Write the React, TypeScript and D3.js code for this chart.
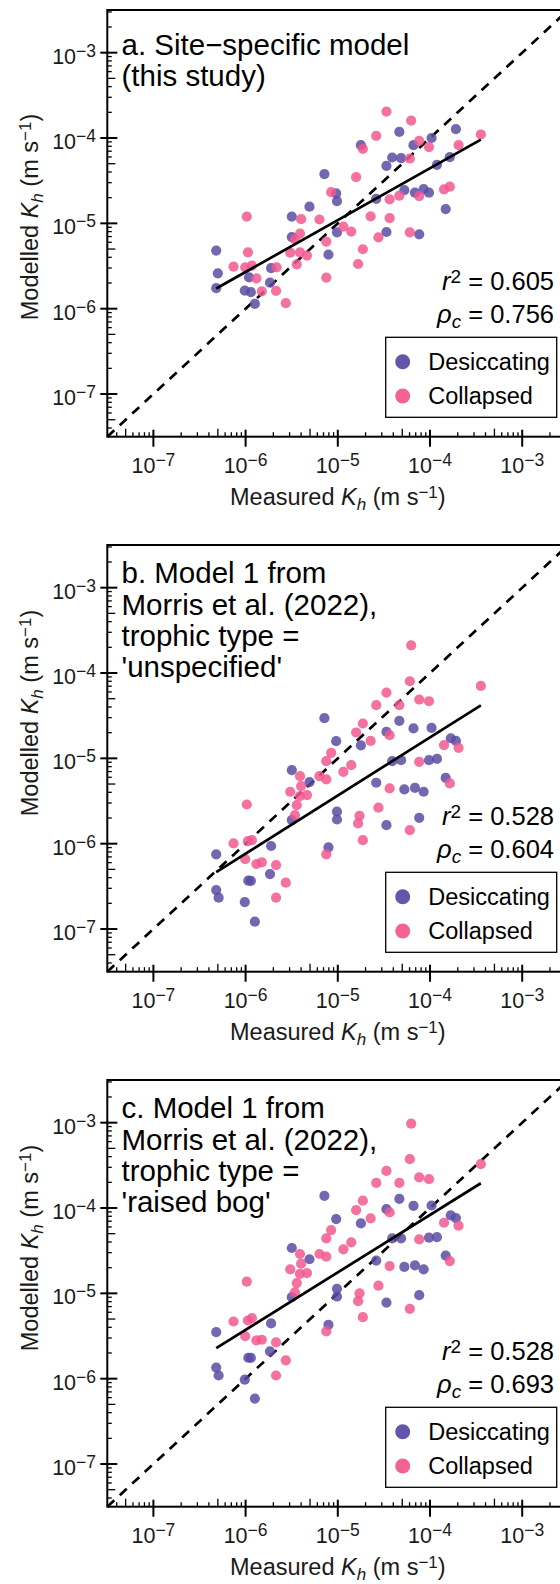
import React, { useEffect, useRef } from "react";
import * as d3 from "d3";

// panel texts
const panelTitles = [
  ["a. Site−specific model", "(this study)"],
  ["b. Model 1 from", "Morris et al. (2022),", "trophic type =", "'unspecified'"],
  ["c. Model 1 from", "Morris et al. (2022),", "trophic type =", "'raised bog'"],
];
const r2Labels = ["0.605", "0.528", "0.528"];
const rhoLabels = ["0.756", "0.604", "0.693"];
// log10(modelled) = intercept + slope * log10(measured)
const fitSlopes = [0.608, 0.681, 0.673];
const fitIntercepts = [-1.922, -2.03, -1.389];
const decades = [1e-7, 1e-6, 1e-5, 1e-4, 1e-3];
const decadeExponents = ["−7", "−6", "−5", "−4", "−3"];
const groupNames = ["Desiccating", "Collapsed"];

// [measured Kh, modelled Kh] (m/s)
const aDesiccating = [
  [4.8e-7, 4.8e-6], [5.0e-7, 2.6e-6], [4.8e-7, 1.74e-6], [9.8e-7, 1.63e-6],
  [1.09e-6, 2.33e-6], [1.14e-6, 1.56e-6], [1.26e-6, 1.14e-6], [1.89e-6, 2.98e-6],
  [1.84e-6, 2.02e-6], [3.17e-6, 1.2e-5], [3.17e-6, 6.9e-6], [4.93e-6, 1.57e-5],
  [7.16e-6, 3.78e-5], [9.6e-6, 2.24e-5], [9.8e-6, 1.82e-5], [9.8e-6, 7.85e-6],
  [7.92e-6, 4.31e-6], [1.78e-5, 8.24e-5], [2.61e-5, 1.94e-5], [3.37e-5, 4.72e-5],
  [3.89e-5, 5.91e-5], [4.65e-5, 1.18e-4], [4.86e-5, 5.81e-5], [5.27e-5, 2.45e-5],
  [6.62e-5, 8.24e-5], [6.87e-5, 2.29e-5], [8.53e-5, 2.52e-5], [9.75e-5, 2.29e-5],
  [1.04e-4, 1.0e-4], [1.19e-4, 4.85e-5], [1.64e-4, 5.97e-5], [1.91e-4, 1.27e-4],
  [1.48e-4, 1.47e-5], [3.37e-5, 7.92e-6], [7.64e-5, 7.43e-6],
];
const aCollapsed = [
  [1.03e-6, 1.2e-5], [7.4e-7, 3.11e-6], [1.06e-6, 4.58e-6], [9.9e-7, 3.05e-6],
  [1.17e-6, 3.2e-6], [1.31e-6, 2.26e-6], [1.5e-6, 1.6e-6], [2.14e-6, 1.62e-6],
  [2.17e-6, 3.05e-6], [2.73e-6, 1.16e-6], [3.05e-6, 4.54e-6], [3.59e-6, 3.31e-6],
  [3.89e-6, 4.58e-6], [4.63e-6, 4.19e-6], [3.89e-6, 7.57e-6], [3.43e-6, 6.5e-6],
  [4.0e-6, 1.12e-5], [6.32e-6, 1.11e-5], [8.47e-6, 2.32e-5], [7.5e-6, 6.11e-6],
  [7.5e-6, 2.31e-6], [1.15e-5, 9.14e-6], [1.4e-5, 8.0e-6], [1.87e-5, 4.97e-6],
  [1.66e-5, 3.34e-6], [2.27e-5, 1.21e-5], [2.76e-5, 6.86e-6], [3.65e-5, 1.15e-5],
  [3.65e-5, 1.91e-5], [1.58e-5, 3.48e-5], [1.87e-5, 7.46e-5], [2.61e-5, 1.06e-4],
  [3.37e-5, 2.04e-4], [6.25e-5, 1.6e-4], [6.04e-5, 5.75e-5], [7.64e-5, 9.27e-5],
  [9.75e-5, 7.82e-5], [4.65e-5, 2.11e-5], [6.04e-5, 7.85e-6], [7.64e-5, 2.09e-5],
  [1.42e-4, 2.5e-5], [1.64e-4, 2.69e-5], [2.04e-4, 8.24e-5], [3.56e-4, 1.1e-4],
];

const bDesiccating = [
  [4.8e-7, 7.5e-7], [4.8e-7, 2.86e-7], [5.1e-7, 2.33e-7], [9.8e-7, 2.07e-7],
  [1.07e-6, 3.69e-7], [1.14e-6, 3.66e-7], [1.26e-6, 1.22e-7], [1.89e-6, 9.4e-7],
  [1.84e-6, 4.41e-7], [3.17e-6, 7.28e-6], [3.17e-6, 1.89e-6], [4.93e-6, 5.26e-6],
  [7.16e-6, 2.96e-5], [9.6e-6, 1.59e-5], [9.8e-6, 2.37e-6], [9.8e-6, 1.92e-6],
  [7.92e-6, 9.05e-7], [1.78e-5, 1.42e-5], [2.61e-5, 5.18e-6], [3.37e-5, 2.05e-5],
  [3.89e-5, 9.27e-6], [4.65e-5, 2.75e-5], [4.86e-5, 9.53e-6], [5.27e-5, 4.32e-6],
  [6.62e-5, 2.24e-5], [6.87e-5, 4.52e-6], [8.53e-5, 4.06e-6], [9.75e-5, 9.53e-6],
  [1.04e-4, 2.28e-5], [1.19e-4, 9.88e-6], [1.68e-4, 1.72e-5], [1.91e-4, 1.6e-5],
  [1.48e-4, 5.92e-6], [3.37e-5, 1.65e-6], [7.64e-5, 2.01e-6],
];
const bCollapsed = [
  [1.03e-6, 2.88e-6], [7.4e-7, 1.01e-6], [1.06e-6, 1.07e-6], [9.9e-7, 6.61e-7],
  [1.17e-6, 1.1e-6], [1.31e-6, 5.78e-7], [1.5e-6, 6.04e-7], [2.14e-6, 5.62e-7],
  [2.14e-6, 2.33e-7], [2.73e-6, 3.49e-7], [3.05e-6, 4.06e-6], [3.59e-6, 2.83e-6],
  [3.89e-6, 3.61e-6], [4.63e-6, 3.71e-6], [3.89e-6, 6.19e-6], [3.43e-6, 2.16e-6],
  [4.0e-6, 4.73e-6], [6.32e-6, 6.19e-6], [8.47e-6, 1.16e-5], [7.5e-6, 5.66e-6],
  [7.5e-6, 7.5e-7], [1.15e-5, 6.96e-6], [1.4e-5, 8.32e-6], [1.87e-5, 1.1e-6],
  [1.66e-5, 1.73e-6], [1.72e-5, 2.12e-6], [2.27e-5, 1.6e-5], [2.76e-5, 2.64e-6],
  [3.65e-5, 4.44e-6], [3.65e-5, 1.87e-5], [1.58e-5, 2.01e-5], [1.87e-5, 2.56e-5],
  [2.61e-5, 4.2e-5], [3.37e-5, 5.9e-5], [6.25e-5, 2.11e-4], [6.04e-5, 8.01e-5],
  [7.64e-5, 4.89e-5], [9.75e-5, 4.67e-5], [4.65e-5, 4.2e-5], [6.04e-5, 1.44e-6],
  [7.64e-5, 9.1e-6], [1.42e-4, 1.43e-5], [1.64e-4, 5.08e-6], [2.04e-4, 1.33e-5],
  [3.56e-4, 7.06e-5], [7.5e-6, 9.27e-6],
];

const cDesiccating = [
  [4.8e-7, 3.52e-6], [4.8e-7, 1.35e-6], [5.1e-7, 1.09e-6], [9.8e-7, 9.75e-7],
  [1.07e-6, 1.76e-6], [1.14e-6, 1.75e-6], [1.26e-6, 5.85e-7], [1.89e-6, 4.44e-6],
  [1.84e-6, 2.09e-6], [3.17e-6, 3.4e-5], [3.17e-6, 9.02e-6], [4.93e-6, 2.51e-5],
  [7.16e-6, 1.39e-4], [9.6e-6, 7.41e-5], [9.8e-6, 1.13e-5], [9.8e-6, 9.18e-6],
  [7.92e-6, 4.28e-6], [1.78e-5, 6.6e-5], [2.61e-5, 2.42e-5], [3.37e-5, 9.7e-5],
  [3.89e-5, 4.41e-5], [4.65e-5, 1.28e-4], [4.86e-5, 4.41e-5], [5.27e-5, 2.04e-5],
  [6.62e-5, 1.06e-4], [6.87e-5, 2.13e-5], [8.53e-5, 1.91e-5], [9.75e-5, 4.49e-5],
  [1.04e-4, 1.07e-4], [1.19e-4, 4.57e-5], [1.68e-4, 8.19e-5], [1.91e-4, 7.62e-5],
  [1.48e-4, 2.77e-5], [3.37e-5, 7.8e-6], [7.64e-5, 9.51e-6],
];
const cCollapsed = [
  [1.03e-6, 1.37e-5], [7.4e-7, 4.68e-6], [1.06e-6, 4.81e-6], [9.9e-7, 3.16e-6],
  [1.17e-6, 5.12e-6], [1.31e-6, 2.81e-6], [1.5e-6, 2.86e-6], [2.14e-6, 2.66e-6],
  [2.14e-6, 1.09e-6], [2.73e-6, 1.64e-6], [3.05e-6, 1.91e-5], [3.59e-6, 1.32e-5],
  [3.89e-6, 1.69e-5], [4.63e-6, 1.73e-5], [3.89e-6, 2.89e-5], [3.43e-6, 1.03e-5],
  [4.0e-6, 2.23e-5], [6.32e-6, 2.89e-5], [8.47e-6, 5.52e-5], [7.5e-6, 2.69e-5],
  [7.5e-6, 3.58e-6], [1.15e-5, 3.28e-5], [1.4e-5, 3.96e-5], [1.87e-5, 5.26e-6],
  [1.66e-5, 8.09e-6], [1.72e-5, 1.0e-5], [2.27e-5, 7.55e-5], [2.76e-5, 1.23e-5],
  [3.65e-5, 2.09e-5], [3.65e-5, 8.87e-5], [1.58e-5, 9.45e-5], [1.87e-5, 1.22e-4],
  [2.61e-5, 1.97e-4], [3.37e-5, 2.72e-4], [6.25e-5, 9.73e-4], [6.04e-5, 3.73e-4],
  [7.64e-5, 2.28e-4], [9.75e-5, 2.18e-4], [4.65e-5, 1.97e-4], [6.04e-5, 6.58e-6],
  [7.64e-5, 4.29e-5], [1.42e-4, 6.72e-5], [1.64e-4, 2.39e-5], [2.04e-4, 6.2e-5],
  [3.56e-4, 3.26e-4], [7.5e-6, 4.41e-5],
];

const panelData = [
  [aDesiccating, aCollapsed],
  [bDesiccating, bCollapsed],
  [cDesiccating, cCollapsed],
];

const FONT = "'Liberation Sans', Arial, Helvetica, sans-serif";
const COLORS = ["#5a4ca5", "#f2588f"];

const App = () => {
  const chartRef = useRef<SVGSVGElement>(null);

  useEffect(() => {
    const svg = d3.select(chartRef.current);
    svg.selectAll("*").remove();

    const left = 107.3;
    const width = 461;
    const height = 426.7;
    const tops = [10, 545, 1080];
    const titleBase = [44.5, 38.3, 38.3];
    const yLabelMid = [207, 168, 168];

    const lo = Math.pow(10, -7.5);
    const hi = Math.pow(10, -2.5);
    const x = d3.scaleLog().domain([lo, hi]).range([left, left + width]);

    const minors: number[] = [];
    for (let e = -8; e <= -3; e++) {
      for (let k = 2; k <= 9; k++) {
        const v = k * Math.pow(10, e);
        if (v > lo && v < hi) minors.push(v);
      }
    }
    const minorLen = (d: number) =>
      Math.abs(d / Math.pow(10, Math.floor(Math.log10(d) + 1e-9)) - 5) < 0.01 ? 8 : 4.5;

    // text with 10^n style pieces
    const addPieces = (t: any, pieces: [string, string][], base: number, small: number) => {
      let shift = 0;
      pieces.forEach(([kind, str]) => {
        const ts = t.append("tspan");
        let target = 0;
        if (kind === "sup") target = -7;
        if (kind === "sub") target = 5;
        ts.attr("dy", target - shift);
        shift = target;
        ts.attr("font-size", kind === "sup" || kind === "sub" ? small : base);
        if (kind === "sub" || kind === "it") ts.attr("font-style", "italic");
        ts.text(str);
      });
    };

    tops.forEach((top, p) => {
      const bottom = top + height;
      const y = d3.scaleLog().domain([lo, hi]).range([bottom, top]);
      const g = svg.append("g");

      // 1:1 line
      g.append("line")
        .attr("x1", x(lo))
        .attr("y1", y(lo))
        .attr("x2", x(hi))
        .attr("y2", y(hi))
        .attr("stroke", "#000")
        .attr("stroke-width", 2.7)
        .attr("stroke-dasharray", "9.5,7.5");

      // points
      panelData[p].forEach((series, s) => {
        g.append("g")
          .selectAll("circle")
          .data(series)
          .enter()
          .append("circle")
          .attr("cx", (d) => x(d[0]))
          .attr("cy", (d) => y(d[1]))
          .attr("r", 5.1)
          .attr("fill", COLORS[s])
          .attr("fill-opacity", 0.85);
      });

      // regression line over the measured range
      const all = panelData[p][0].concat(panelData[p][1]);
      const ext = d3.extent(all, (d) => d[0]) as [number, number];
      const fit = (v: number) =>
        Math.pow(10, fitIntercepts[p] + fitSlopes[p] * Math.log10(v));
      g.append("line")
        .attr("x1", x(ext[0]))
        .attr("y1", y(fit(ext[0])))
        .attr("x2", x(ext[1]))
        .attr("y2", y(fit(ext[1])))
        .attr("stroke", "#000")
        .attr("stroke-width", 2.7);

      // frame
      g.append("rect")
        .attr("x", left)
        .attr("y", top)
        .attr("width", width)
        .attr("height", height)
        .attr("fill", "none")
        .attr("stroke", "#000")
        .attr("stroke-width", 2);

      // ticks
      g.selectAll(".xmaj")
        .data(decades)
        .enter()
        .append("line")
        .attr("x1", (d) => x(d))
        .attr("x2", (d) => x(d))
        .attr("y1", bottom - 7)
        .attr("y2", bottom + 10)
        .attr("stroke", "#000")
        .attr("stroke-width", 2);
      g.selectAll(".ymaj")
        .data(decades)
        .enter()
        .append("line")
        .attr("y1", (d) => y(d))
        .attr("y2", (d) => y(d))
        .attr("x1", left - 7)
        .attr("x2", left + 10)
        .attr("stroke", "#000")
        .attr("stroke-width", 2);
      g.selectAll(".xmin")
        .data(minors)
        .enter()
        .append("line")
        .attr("x1", (d) => x(d))
        .attr("x2", (d) => x(d))
        .attr("y1", bottom)
        .attr("y2", (d) => bottom - minorLen(d))
        .attr("stroke", "#000")
        .attr("stroke-width", 1.3);
      g.selectAll(".ymin")
        .data(minors)
        .enter()
        .append("line")
        .attr("y1", (d) => y(d))
        .attr("y2", (d) => y(d))
        .attr("x1", left)
        .attr("x2", (d) => left + minorLen(d))
        .attr("stroke", "#000")
        .attr("stroke-width", 1.3);

      // tick labels
      decades.forEach((d, i) => {
        const tx = g
          .append("text")
          .attr("x", x(d))
          .attr("y", bottom + 36.6)
          .attr("text-anchor", "middle")
          .attr("font-family", FONT)
          .attr("fill", "#1a1a1a");
        addPieces(tx, [["n", "10"], ["sup", decadeExponents[i]]], 21.5, 17.5);

        const ty = g
          .append("text")
          .attr("x", 96)
          .attr("y", y(d) + 11)
          .attr("text-anchor", "end")
          .attr("font-family", FONT)
          .attr("fill", "#1a1a1a");
        addPieces(ty, [["n", "10"], ["sup", decadeExponents[i]]], 21.5, 17.5);
      });

      // axis titles
      const xt = g
        .append("text")
        .attr("x", left + width / 2)
        .attr("y", bottom + 68.3)
        .attr("text-anchor", "middle")
        .attr("font-family", FONT)
        .attr("fill", "#1a1a1a");
      addPieces(
        xt,
        [["n", "Measured "], ["it", "K"], ["sub", "h"], ["n", " (m s"], ["sup", "−1"], ["n", ")"]],
        23.5,
        17
      );

      const yt = g
        .append("text")
        .attr("transform", `translate(38,${top + yLabelMid[p]}) rotate(-90)`)
        .attr("text-anchor", "middle")
        .attr("font-family", FONT)
        .attr("fill", "#1a1a1a");
      addPieces(
        yt,
        [["n", "Modelled "], ["it", "K"], ["sub", "h"], ["n", " (m s"], ["sup", "−1"], ["n", ")"]],
        23.5,
        17
      );

      // panel title
      panelTitles[p].forEach((line, i) => {
        g.append("text")
          .attr("x", 121.5)
          .attr("y", top + titleBase[p] + i * 31.3)
          .attr("font-family", FONT)
          .attr("font-size", 29.5)
          .attr("fill", "#000")
          .text(line);
      });

      // stats
      const st1 = g
        .append("text")
        .attr("x", 554)
        .attr("y", top + 280)
        .attr("text-anchor", "end")
        .attr("font-family", FONT)
        .attr("fill", "#000");
      addPieces(st1, [["it", "r"], ["sup", "2"], ["n", " = " + r2Labels[p]]], 25.5, 19);

      const st2 = g
        .append("text")
        .attr("x", 554)
        .attr("y", top + 312.7)
        .attr("text-anchor", "end")
        .attr("font-family", FONT)
        .attr("fill", "#000");
      addPieces(st2, [["it", "ρ"], ["sub", "c"], ["n", " = " + rhoLabels[p]]], 25.5, 19);

      // legend
      g.append("rect")
        .attr("x", 385.7)
        .attr("y", top + 327.3)
        .attr("width", 171)
        .attr("height", 80)
        .attr("fill", "#fff")
        .attr("stroke", "#000")
        .attr("stroke-width", 1.3);
      groupNames.forEach((name, i) => {
        g.append("circle")
          .attr("cx", 402.7)
          .attr("cy", top + 351.7 + i * 34.3)
          .attr("r", 7.5)
          .attr("fill", COLORS[i])
          .attr("fill-opacity", 0.95);
        g.append("text")
          .attr("x", 428.3)
          .attr("y", top + 360 + i * 34.3)
          .attr("font-family", FONT)
          .attr("font-size", 23.5)
          .attr("fill", "#000")
          .text(name);
      });
    });
  }, []);

  return (
    <svg
      ref={chartRef}
      width={560}
      height={1584}
      style={{ position: "absolute", left: 0, top: 0, background: "#fff" }}
    />
  );
};

export default App;
